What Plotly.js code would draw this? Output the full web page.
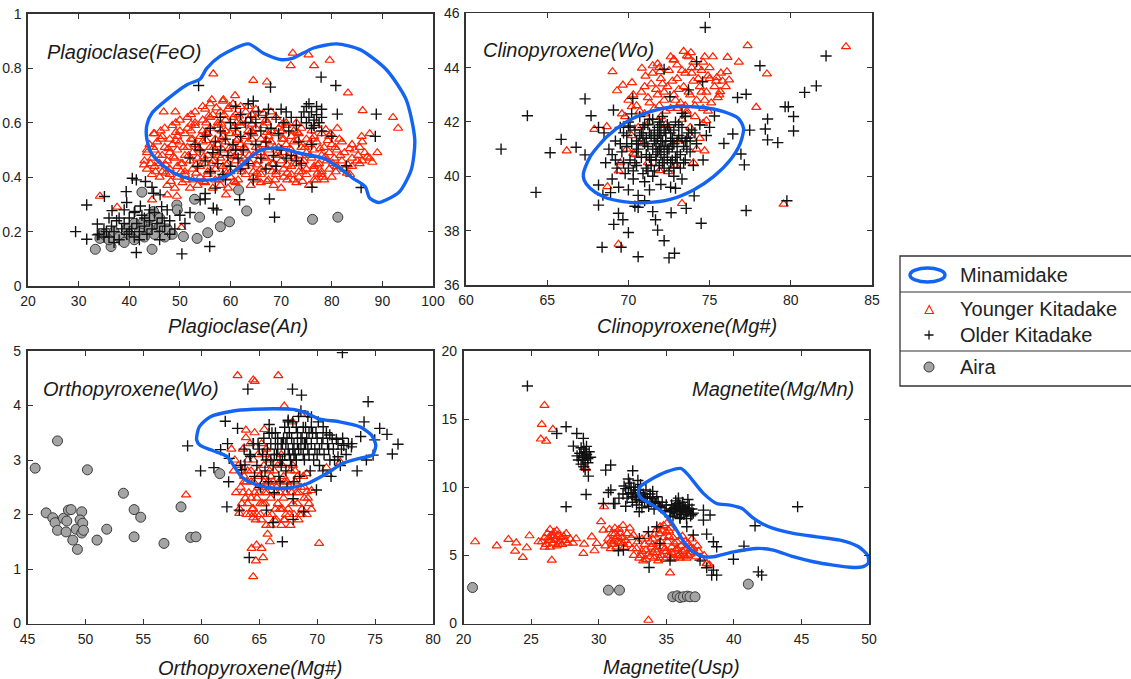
<!DOCTYPE html>
<html><head><meta charset="utf-8">
<script src="https://cdn.plot.ly/plotly-3.0.1.min.js"></script>
<style>html,body{margin:0;padding:0;background:#fff;}#chart{width:1131px;height:679px;}</style>
</head><body><div id="chart"></div>
<script>
// ---------------- DATA ----------------
// Panel 1: Plagioclase An (x) vs FeO (y)
const plagYounger = [
[34.2,0.33],[37.6,0.29],[50.3,0.215],[56.6,0.78],[64.5,0.756],[67.2,0.75],[72.3,0.856],[71.9,0.81],[75.4,0.85],[76.5,0.81],[79.6,0.83],[83.2,0.71],[86.1,0.645],[92.1,0.62],[93.1,0.58],[87.5,0.56],[85.9,0.55],[89.0,0.49],[85.0,0.46],[83.6,0.41],[81.1,0.58],[79.8,0.56],[78.2,0.40],[76.4,0.43],[72.4,0.39],[68.8,0.39],[59.1,0.335],[47.5,0.335],[49.4,0.33],[44.5,0.317],[43.5,0.5],[42.9,0.445],[44.8,0.56],[46.8,0.64],[49.1,0.64],[56.3,0.685],[58.6,0.685],[60.9,0.70],
[47.5,0.37],[49,0.36],[50.5,0.38],[52,0.36],[53.5,0.37],[55,0.38],[56.5,0.36],[58,0.37],[59.5,0.36],[61,0.38],[64,0.37],[66,0.38],[68.5,0.37],[70,0.36],[73,0.38],[75.5,0.37],[77,0.39],
[44.5,0.41],[46,0.40],[48,0.41],[49.5,0.40],[51,0.41],[52.5,0.39],[54,0.40],[55.5,0.41],[57,0.39],[58.5,0.41],[60,0.40],[61.5,0.39],[63,0.41],[64.5,0.40],[66,0.41],[67.5,0.39],[69,0.41],[70.5,0.40],[72,0.41],[73.5,0.40],[75,0.41],[76.5,0.39],[78,0.41],[80,0.40],
[43.5,0.43],[45,0.44],[46.5,0.42],[48,0.43],[49.5,0.44],[51,0.42],[52.5,0.43],[54,0.44],[55.5,0.42],[57,0.43],[58.5,0.44],[60,0.42],[61.5,0.43],[63,0.44],[64.5,0.42],[66,0.43],[67.5,0.44],[69,0.42],[70.5,0.43],[72,0.44],[73.5,0.42],[75,0.43],[76.5,0.44],[78,0.42],[79.5,0.43],[81,0.44],[82.5,0.43],[84,0.44],
[43,0.46],[44.5,0.47],[46,0.45],[47.5,0.46],[49,0.47],[50.5,0.45],[52,0.46],[53.5,0.47],[55,0.45],[56.5,0.46],[58,0.47],[59.5,0.45],[61,0.46],[62.5,0.47],[64,0.45],[65.5,0.46],[67,0.47],[68.5,0.45],[70,0.46],[71.5,0.47],[73,0.45],[74.5,0.46],[76,0.47],[77.5,0.45],[79,0.46],[80.5,0.47],[82,0.46],[84,0.47],[86,0.46],[87.5,0.47],
[43.5,0.49],[45,0.50],[46.5,0.48],[48,0.49],[49.5,0.50],[51,0.48],[52.5,0.49],[54,0.50],[55.5,0.48],[57,0.49],[58.5,0.50],[60,0.48],[61.5,0.49],[63,0.50],[64.5,0.48],[66,0.49],[67.5,0.50],[69,0.48],[70.5,0.49],[72,0.50],[73.5,0.48],[75,0.49],[76.5,0.50],[78,0.48],[79.5,0.49],[81,0.50],[82.5,0.49],[84.5,0.50],[86.5,0.49],
[44,0.52],[45.5,0.53],[47,0.51],[48.5,0.52],[50,0.53],[51.5,0.51],[53,0.52],[54.5,0.53],[56,0.51],[57.5,0.52],[59,0.53],[60.5,0.51],[62,0.52],[63.5,0.53],[65,0.51],[66.5,0.52],[68,0.53],[69.5,0.51],[71,0.52],[72.5,0.53],[74,0.51],[75.5,0.52],[77,0.53],[78.5,0.51],[80,0.52],[82,0.53],[84,0.52],[86,0.53],
[45,0.56],[46.5,0.55],[48,0.54],[49.5,0.55],[51,0.56],[52.5,0.54],[54,0.55],[55.5,0.56],[57,0.54],[58.5,0.55],[60,0.56],[61.5,0.54],[63,0.55],[64.5,0.56],[66,0.54],[67.5,0.55],[69,0.56],[70.5,0.54],[72,0.55],[73.5,0.56],[75,0.54],[76.5,0.55],[78,0.56],[79.5,0.55],
[47,0.58],[48.5,0.59],[50,0.57],[51.5,0.58],[53,0.59],[54.5,0.57],[56,0.58],[57.5,0.59],[59,0.57],[60.5,0.58],[62,0.59],[63.5,0.57],[65,0.58],[66.5,0.59],[68,0.57],[69.5,0.58],[71,0.59],[72.5,0.57],[74,0.58],[77,0.59],
[50,0.61],[51.5,0.62],[53,0.60],[54.5,0.61],[56,0.62],[57.5,0.60],[59,0.61],[60.5,0.62],[62,0.60],[63.5,0.61],[65,0.62],[67,0.61],[69,0.62],[71,0.60],
[53,0.64],[55,0.65],[56.5,0.63],[58,0.64],[59.5,0.65],[61,0.63],[63,0.64],[65,0.65],[68,0.64],
[56,0.67],[58.5,0.68],[60.5,0.67],[62,0.66],
[48.2,0.385],[51.2,0.39],[54.7,0.385],[57.8,0.39],[60.7,0.385],[65.2,0.39],[67.2,0.385],[71.2,0.39],[74.2,0.385],[78.5,0.39],
[45.2,0.42],[47.2,0.415],[50.2,0.42],[53.2,0.415],[56.2,0.42],[59.2,0.415],[62.2,0.42],[65.2,0.415],[68.2,0.42],[71.2,0.415],[74.2,0.42],[77.2,0.415],[80.8,0.42],[83,0.415],
[44.2,0.45],[47.2,0.445],[50.2,0.45],[53.2,0.445],[56.2,0.45],[59.2,0.445],[62.2,0.45],[65.2,0.445],[68.2,0.45],[71.2,0.445],[74.2,0.45],[77.2,0.445],[80.2,0.45],[83.2,0.445],[85.5,0.45],[88,0.455],
[45.7,0.48],[48.7,0.475],[51.7,0.48],[54.7,0.475],[57.7,0.48],[60.7,0.475],[63.7,0.48],[66.7,0.475],[69.7,0.48],[72.7,0.475],[75.7,0.48],[78.7,0.475],[81.7,0.48],[85.2,0.48],[87,0.475],
[44.7,0.51],[47.7,0.505],[50.7,0.51],[53.7,0.505],[56.7,0.51],[59.7,0.505],[62.7,0.51],[65.7,0.505],[68.7,0.51],[71.7,0.505],[74.7,0.51],[77.7,0.505],[80.7,0.51],[83.5,0.505],[85.5,0.51],
[46.2,0.54],[49.2,0.535],[52.2,0.54],[55.2,0.535],[58.2,0.54],[61.2,0.535],[64.2,0.54],[67.2,0.535],[70.2,0.54],[73.2,0.535],[76.2,0.54],[79.2,0.535],[81.5,0.54],
[46.2,0.57],[49.2,0.565],[52.2,0.57],[55.2,0.565],[58.2,0.57],[61.2,0.565],[64.2,0.57],[67.2,0.565],[70.2,0.57],[73.2,0.565],[76,0.57],[78.8,0.575],
[49.2,0.60],[52.2,0.595],[55.2,0.60],[58.2,0.595],[61.2,0.60],[64.2,0.595],[67.2,0.60],[70.2,0.595],[73,0.60],
[52.2,0.63],[55.7,0.625],[58.7,0.63],[61.7,0.625],[64.2,0.63],[66.5,0.635],
[54.5,0.66],[57.2,0.655],[59.8,0.66],[63.5,0.66]
];
const plagOlder = [
[29.4,0.2],[31.6,0.172],[31.6,0.298],[33.7,0.228],[33.7,0.188],[35.1,0.329],[35.5,0.2],[36.6,0.277],[39.4,0.347],[39.5,0.307],[40.6,0.396],[41.4,0.39],[41.4,0.123],[43.2,0.384],[41.1,0.274],[42.2,0.294],[44.8,0.341],[46.1,0.335],[46.4,0.292],[44.5,0.363],[50.4,0.118],[55.9,0.145],[54.0,0.317],[55.0,0.32],[56.6,0.286],[57.3,0.28],[61.8,0.317],[67.7,0.32],[68.7,0.253],[76.1,0.363],[85.8,0.362],[82.9,0.442],[88.6,0.55],[88.8,0.632],[81.1,0.632],[80.8,0.737],[77.9,0.768],[67.9,0.731],[53.7,0.737],
[34,0.19],[35,0.21],[36,0.18],[36.5,0.22],[37,0.20],[37.5,0.24],[38,0.17],[38.5,0.21],[39,0.23],[39.5,0.19],[40,0.25],[40.5,0.21],[41,0.18],[41.5,0.23],[42,0.20],[42.5,0.26],[43,0.22],[43.5,0.19],[44,0.24],[44.5,0.21],[45,0.27],[45.5,0.23],[46,0.20],[46.5,0.25],[47,0.22],[47.5,0.28],[48,0.24],[49,0.21],[38,0.25],[39,0.28],[40,0.20],[41,0.27],[42,0.17],[43,0.25],[36,0.25],[37,0.16],[35,0.18],[44,0.28],[46,0.17],[48,0.19],[50,0.26],[51,0.23],[52,0.27],
[52,0.47],[53,0.52],[53.5,0.44],[54,0.50],[55,0.46],[55,0.55],[56,0.42],[56,0.58],[56.5,0.49],[57,0.53],[57.5,0.45],[58,0.50],[58,0.57],[58.5,0.41],[59,0.54],[59.5,0.48],[60,0.44],[60,0.60],[60.5,0.52],[61,0.58],[61,0.66],[61.5,0.47],[62,0.55],[62,0.63],[62.5,0.50],[63,0.60],[63.5,0.45],[63.5,0.67],[64,0.56],[64,0.62],[64.5,0.68],[65,0.52],[65,0.60],[65.5,0.64],[66,0.47],[66,0.57],[67,0.62],[67,0.53],[67.5,0.65],[68,0.58],[68.5,0.48],[69,0.62],[69.5,0.56],[70,0.65],[70,0.50],[70.5,0.60],[71,0.64],[71.5,0.57],[72,0.48],[72,0.62],[73,0.59],[73.5,0.53],[74,0.62],[74.5,0.64],[75,0.60],[75,0.66],[75.5,0.62],[76,0.58],[76,0.64],[76.5,0.61],[77,0.66],[77,0.63],[77.5,0.60],[78,0.65],[78,0.62],[75.5,0.67],[76.5,0.59],[74,0.45],[76,0.52],[78,0.57],[80,0.55],[58,0.62],[59,0.39],[57,0.36],[55,0.34],[64.5,0.39],[67,0.43],[69,0.44],[71,0.47],[73,0.46],[62,0.43],[61,0.50]
];
const plagAira = [
[33.3,0.135],[34.2,0.175],[36.4,0.145],[44.5,0.135],[42.5,0.345],[44.8,0.274],[49.4,0.298],[52.9,0.319],[53.9,0.253],[53.4,0.175],[50.7,0.182],[55.5,0.196],[58.0,0.218],[59.8,0.236],[61.6,0.353],[63.2,0.276],[76.2,0.245],[81.2,0.253],
[35,0.19],[36,0.17],[37,0.20],[38,0.18],[39,0.16],[39.5,0.21],[40,0.19],[41,0.17],[42,0.20],[42.5,0.23],[43,0.18],[44,0.21],[45,0.19],[46,0.22],[47,0.18],[47.5,0.21],[48.5,0.19],[49.5,0.28],[46,0.25],[44,0.25],[41,0.23]
];
const plagMinamidake = [
[43.5,0.593],[44.5,0.636],[47.4,0.685],[51.4,0.74],[54.0,0.761],[55.3,0.80],[57.9,0.844],[63.5,0.89],[66.5,0.856],[70.1,0.832],[72.4,0.838],[76.4,0.875],[81.0,0.89],[85.6,0.869],[90.8,0.795],[94.7,0.685],[96.4,0.537],[95.7,0.427],[93.4,0.347],[90.8,0.317],[89.2,0.307],[87.5,0.323],[86.6,0.366],[84.2,0.396],[81.6,0.433],[78.3,0.47],[73.7,0.488],[69.8,0.507],[66.5,0.503],[64.5,0.482],[61.9,0.439],[59.3,0.405],[56.0,0.39],[52.1,0.393],[48.8,0.415],[46.1,0.452],[44.2,0.494],[43.4,0.55],[43.5,0.593]
];

// Panel 2: Clinopyroxene Mg# (x) vs Wo (y)
const cpxYounger = [
[77.34,44.81],[83.4,44.77],[78.53,43.77],[77.87,42.54],[79.56,38.98],[69.39,37.5],[68.71,39.62],[66.2,40.94],[67.9,41.73],[68.67,41.83],[69.02,43.85],[69.66,43.36],[69.3,43.15],[70.22,43.45],[70.83,43.98],[71.05,43.69],[71.5,44.07],[71.8,44.14],[71.95,43.85],[72.78,44.28],[73.6,44.43],[73.85,44.55],[75.2,44.4],[76.1,44.38],[76.8,44.2],[76.07,43.85],[75.45,43.64],[76.2,43.55],[75.65,43.12],[74.6,41.95],[74.8,42.05],[74.69,40.94],[74.0,40.5],[71.9,40.21],[72.45,40.17],[69.4,40.2],[73.3,39.0],[70.3,40.85],[69.6,42.3],[70.2,42.56],[70.7,42.4],[73.6,42.3],[73.8,41.5],[74.4,41.4],
[70.5,42.6],[70.8,43.1],[71,42.3],[71.2,42.9],[71.4,43.4],[71.6,42.5],[71.8,43.0],[72,43.6],[72,42.2],[72.2,42.8],[72.4,43.3],[72.5,43.9],[72.6,42.5],[72.8,43.0],[73,43.6],[73,44.1],[73.2,42.7],[73.4,43.3],[73.5,43.8],[73.6,42.4],[73.8,43.0],[74,43.5],[74,44.2],[74.2,42.8],[74.4,43.3],[74.5,43.9],[74.6,42.5],[74.8,43.1],[75,43.6],[75,44.0],[75.3,43.3],[75.5,42.9],[71.5,43.8],[72.8,44.3],[73.7,44.4],[74.3,44.0],[75.7,43.8],[70.3,43.0],[70.0,42.8],[71.3,42.0],[72.3,41.9],[73.3,42.1],[74.1,42.2],[74.9,42.4],[69.8,42.2],[70.6,41.8],[71.9,44.0],[72.6,44.4],[73.4,44.6],[74.7,44.4],[75.6,43.0],[76.0,43.3],[70.2,41.5],[69.9,41.0],[70.4,40.8],[71.2,40.5],[72.9,40.4],[73.1,41.3],[73.8,41.8],[74.2,41.0],[69.5,40.5],[70.9,41.2],
[71.0,43.3],[71.3,42.7],[71.7,43.2],[71.9,42.6],[72.1,43.4],[72.3,42.4],[72.7,43.5],[72.9,42.8],[73.1,43.2],[73.3,43.9],[73.5,42.6],[73.7,43.1],[73.9,43.8],[74.1,42.6],[74.3,43.6],[74.5,43.1],[74.7,42.8],[74.9,43.7],[75.1,42.7],[75.4,43.5],[72.2,43.1],[73.0,42.5],[73.9,44.0],[74.6,44.2],[75.8,43.5]
];
const cpxOlder = [
[62.16,41.0],[63.78,42.23],[64.31,39.41],[65.18,40.87],[65.86,41.36],[66.78,41.07],[67.33,42.85],[67.7,42.23],[67.33,40.79],[68.16,41.8],[68.16,39.68],[68.16,38.94],[68.43,39.31],[69.08,42.44],[69.1,38.23],[69.39,38.64],[69.55,37.39],[69.66,38.4],[70.0,37.93],[68.38,37.39],[70.6,37.04],[70.6,38.86],[71.5,38.7],[71.67,38.4],[71.8,38.02],[72.2,37.63],[72.5,37.0],[72.84,37.17],[72.63,38.66],[72.9,39.56],[73.56,38.82],[74.05,39.28],[74.48,38.27],[74.2,44.22],[74.57,43.48],[74.73,45.48],[75.3,42.22],[75.88,41.21],[76.43,41.56],[76.72,42.9],[77.25,43.02],[76.93,40.82],[77.14,40.42],[77.25,38.74],[77.47,41.7],[78.1,44.07],[78.43,41.74],[78.57,42.11],[78.57,41.34],[79.2,41.24],[79.65,42.56],[79.85,42.56],[80.17,42.2],[80.17,41.67],[79.76,39.1],[80.85,43.09],[81.57,43.33],[82.17,44.43],[72.2,43.94],[72.56,42.93],[73.3,42.32],[73.7,43.18],[70.27,42.87],[70.0,41.85],
[69.0,40.8],[69.2,41.3],[69.3,40.3],[69.5,41.8],[69.6,40.9],[69.8,40.1],[69.9,41.5],[70.0,42.0],[70.1,40.6],[70.2,41.2],[70.3,39.9],[70.4,41.7],[70.5,40.4],[70.6,41.0],[70.7,42.2],[70.8,40.7],[70.9,41.4],[71.0,39.8],[71.0,41.9],[71.1,40.3],[71.2,41.1],[71.3,41.6],[71.4,40.6],[71.5,42.1],[71.5,40.0],[71.6,41.3],[71.7,40.8],[71.8,41.8],[71.9,40.4],[72.0,41.1],[72.0,41.5],[72.1,42.2],[72.2,40.7],[72.3,41.3],[72.4,41.9],[72.5,40.2],[72.5,41.0],[72.6,41.6],[72.7,40.6],[72.8,41.2],[72.9,42.0],[73.0,40.9],[73.1,41.5],[73.2,40.3],[73.3,41.8],[73.4,41.1],[73.5,40.6],[73.6,41.4],[73.8,40.9],[73.9,41.7],[74.0,40.4],[74.2,41.2],[74.4,41.9],[71.2,41.9],[71.6,40.2],[72.2,41.7],[72.8,40.0],[70.5,41.3],[71.9,41.0],[72.4,40.9],[71.4,41.5],[70.8,41.6],[72.7,41.4],[71.7,41.2],[72.1,40.5],[73.5,42.2],[70.2,42.3],[69.4,39.6],[70.0,39.5],[70.6,39.3],[71.3,39.5],[72.0,39.7],[72.6,39.6],[73.3,39.9],[68.6,40.5],[68.8,41.0],[68.5,41.6],[69.0,39.9],[74.6,40.6],[74.8,41.5],[75.0,41.8],[68.9,39.4],[70.4,38.9],[71.0,39.1],
[69.7,40.5],[69.9,41.1],[70.1,41.8],[70.3,40.2],[70.5,40.9],[70.7,41.5],[70.9,40.1],[71.1,40.8],[71.1,41.4],[71.3,42.1],[71.4,40.4],[71.5,41.0],[71.6,41.7],[71.7,40.6],[71.8,41.4],[71.9,42.0],[72.0,40.8],[72.1,41.3],[72.2,40.3],[72.3,41.6],[72.4,41.0],[72.5,41.8],[72.6,40.5],[72.7,41.1],[72.8,41.7],[72.9,40.7],[73.0,41.3],[73.1,41.9],[73.2,40.8],[73.3,41.4],[73.4,40.5],[73.6,41.0],[73.7,41.6],[71.0,41.2],[71.8,40.9],[72.2,41.1],[71.3,40.7],[72.6,41.3],[71.6,41.5],[72.0,41.9],[70.6,41.2],[71.9,41.6],[72.4,40.6],[73.0,40.5],[73.5,41.3],[70.4,40.5],[70.9,41.8],[71.2,40.2],[72.8,40.3],[73.8,41.3],[74.1,41.6],[69.5,41.2],[69.2,40.6],[70.0,40.3],[69.7,41.6]
];
const cpxMinamidake = [
[67.27,39.87],[67.23,40.11],[67.64,40.72],[68.67,41.46],[69.9,42.01],[71.34,42.38],[72.78,42.56],[74.42,42.54],[75.86,42.38],[76.78,42.13],[77.09,41.77],[76.89,41.21],[76.27,40.6],[75.24,39.99],[74.01,39.5],[72.57,39.15],[71.13,39.03],[69.7,39.07],[68.46,39.25],[67.64,39.56],[67.27,39.87]
];

// Panel 3: Orthopyroxene Mg# (x) vs Wo (y)
const opxYounger = [
[63.13,4.55],[64.48,4.47],[64.62,4.44],[66.64,4.55],[67.16,3.99],[63.85,3.55],[63.85,3.41],[65.43,3.56],[62.6,3.2],[58.68,2.36],[63.28,2.02],[64.48,1.94],[64.48,2.11],[65.72,1.64],[65.92,1.5],[64.77,1.44],[65.2,1.38],[64.34,1.38],[65.34,1.21],[64.71,1.15],[64.48,0.86],[70.17,1.47],[67.13,1.9],[69.51,2.44],[69.13,2.42],[70.94,2.74],[72.0,2.96],[70.8,2.86],[69.1,2.75],[68.65,3.83],[67.87,3.7],
[63.2,2.9],[63.4,2.5],[63.5,2.2],[63.7,2.7],[63.9,2.0],[64.0,3.0],[64.1,2.4],[64.3,2.8],[64.4,2.1],[64.5,2.6],[64.7,1.9],[64.8,2.3],[64.9,3.1],[65.0,2.7],[65.1,2.0],[65.3,2.5],[65.4,2.9],[65.5,2.2],[65.6,1.8],[65.8,2.6],[65.9,3.0],[66.0,2.3],[66.1,2.0],[66.3,2.8],[66.4,2.4],[66.5,1.9],[66.7,2.6],[66.8,2.1],[67.0,2.9],[67.1,2.3],[67.2,1.9],[67.4,2.6],[67.5,2.1],[67.7,2.8],[67.8,2.4],[68.0,2.0],[68.1,2.6],[68.3,2.2],[68.4,1.9],[68.6,2.5],[68.7,2.1],[68.9,2.3],[69.1,2.0],[69.3,2.2],[63.6,3.2],[64.2,3.3],[65.2,3.3],[64.6,3.5],[62.8,2.8],[63.0,2.4],[63.9,2.6],[64.8,2.0],[65.7,2.4],[66.6,2.2],[67.3,2.4],[68.2,2.4],[66.2,2.6],[65.0,2.4],[64.3,2.3],[67.6,2.0],[66.9,1.8],[68.8,2.7],[67.9,2.9],[66.9,3.1],[65.5,3.1],[64.0,2.2],[63.3,2.1],[64.5,2.0],[66.0,1.8],[62.9,3.0],[63.7,2.6],[65.3,2.2],[67.0,2.1],
[63.6,2.4],[64.0,2.8],[64.2,2.0],[64.6,2.4],[64.9,2.8],[65.1,2.2],[65.4,2.6],[65.7,2.0],[65.9,2.8],[66.1,2.5],[66.4,2.1],[66.6,2.9],[66.8,2.4],[67.1,2.7],[67.3,2.0],[67.6,2.5],[67.9,2.2],[68.1,2.8],[68.4,2.4],[68.7,2.0],[68.9,2.5],[69.2,2.3],[65.2,1.9],[66.3,1.9],[67.7,1.8],[68.5,2.0],[64.5,3.0],[65.6,3.2],[63.8,2.3],[64.9,2.5],[66.0,2.7],[67.2,2.6],[68.3,2.7],[66.5,2.5],[65.5,2.4],[64.3,2.6],[63.5,2.8],[69.5,2.1]
];
const opxOlder = [
[72.18,4.97],[64.02,4.3],[67.87,4.3],[68.65,4.19],[74.4,4.07],[62.07,3.71],[63.13,3.58],[58.82,3.26],[59.94,2.8],[61.09,2.86],[62.27,3.3],[61.67,3.19],[62.41,3.03],[62.36,2.6],[62.21,2.14],[63.28,2.08],[65.86,3.65],[65.63,2.08],[66.2,1.85],[67.0,1.5],[64.14,1.21],[67.93,1.91],[68.85,2.05],[67.93,2.29],[69.94,2.45],[73.45,2.8],[74.25,3.0],[74.05,3.7],[75.4,3.58],[76.03,3.47],[76.49,3.11],[76.98,3.29],[74.97,3.37],[74.83,3.09],[73.76,3.43],[72.96,3.24],[72.3,3.27],[71.8,3.06],[71.66,3.38],[71.09,3.46],[70.52,3.61],[69.51,3.79],[67.5,3.73],[65.86,3.49],[64.48,3.3],[64.25,3.07],[63.77,2.91],[63.48,2.82],
[64.2,3.1],[64.5,3.3],[64.8,2.9],[65.0,3.2],[65.2,2.7],[65.4,3.4],[65.6,3.0],[65.8,2.6],[66.0,3.3],[66.2,2.9],[66.4,3.5],[66.5,3.1],[66.7,2.7],[66.9,3.3],[67.0,3.0],[67.2,3.6],[67.3,2.8],[67.5,3.2],[67.6,3.5],[67.8,2.9],[67.9,3.7],[68.0,3.3],[68.2,3.0],[68.3,3.5],[68.5,2.7],[68.6,3.2],[68.8,3.6],[68.9,3.0],[69.1,3.4],[69.3,3.1],[69.4,2.8],[69.6,3.5],[69.8,3.2],[70.0,3.4],[70.2,2.9],[70.4,3.3],[70.6,3.1],[70.8,3.5],[71.0,3.2],[71.3,3.4],[71.5,3.0],[71.8,3.3],[72.1,3.2],[72.5,3.1],[73.0,3.3],[66.0,3.0],[67.1,3.4],[68.1,3.1],[68.7,3.4],[69.0,3.3],[67.7,3.0],[66.6,3.2],[68.4,3.8],[67.5,3.7],[69.5,3.6],[65.5,2.8],[66.8,2.6],[67.4,2.5],[68.0,2.6],[64.6,2.7],[65.1,2.5],[66.3,2.4],[63.7,3.2],[63.4,2.9],[70.5,2.8],[72.0,2.9],[71.2,2.7],[70.1,3.7],[69.2,3.8],[68.6,3.9],
[65.7,3.2],[66.1,3.5],[66.3,3.1],[66.6,3.4],[66.8,3.0],[67.0,3.3],[67.2,3.1],[67.4,3.4],[67.6,3.1],[67.8,3.4],[68.0,3.1],[68.2,3.6],[68.4,3.2],[68.6,3.4],[68.8,3.1],[69.0,3.6],[69.2,3.2],[69.5,3.3],[69.7,3.0],[69.9,3.5],[70.2,3.2],[70.5,3.4],[70.9,3.3],[71.4,3.2],[72.2,3.4],[72.7,3.3],[66.9,2.9],[67.9,3.2],[68.9,3.3],[67.3,3.3],[68.3,3.3],[69.3,3.5],[66.4,3.3],[65.3,3.1],[64.9,3.3],[70.0,3.1],[71.1,3.0]
];
const opxAira = [
[45.66,2.85],[47.59,3.35],[50.17,2.82],[53.28,2.39],[58.25,2.14],[61.6,2.75],[46.61,2.03],[47.18,1.94],[47.38,1.85],[47.59,1.71],[48.1,1.93],[48.39,1.88],[48.33,1.68],[48.53,2.08],[48.76,2.09],[48.91,1.53],[49.2,1.73],[49.31,1.36],[49.68,2.05],[49.54,1.9],[49.77,1.84],[49.68,1.66],[49.83,1.71],[51.0,1.53],[51.84,1.73],[54.2,2.09],[54.77,1.95],[54.2,1.59],[56.78,1.47],[59.08,1.58],[59.54,1.59]
];
const opxMinamidake = [
[59.6,3.37],[59.83,3.61],[60.75,3.79],[62.76,3.9],[64.48,3.93],[66.2,3.94],[67.93,3.93],[69.08,3.86],[70.23,3.75],[71.95,3.7],[73.68,3.61],[74.68,3.46],[75.06,3.27],[74.77,3.09],[73.68,3.03],[72.24,2.94],[70.8,2.75],[69.08,2.56],[67.36,2.48],[65.63,2.5],[64.48,2.57],[63.48,2.69],[62.76,2.91],[62.18,3.07],[61.03,3.17],[59.89,3.27],[59.6,3.37]
];

// Panel 4: Magnetite Usp (x) vs Mg/Mn (y)
const mtYounger = [
[20.86,6.0],[22.46,5.7],[23.32,6.17],[23.82,5.31],[23.9,5.92],[24.39,4.85],[24.68,5.56],[24.88,6.44],[25.55,6.0],[26.53,4.65],[25.99,16.01],[25.79,14.61],[26.61,14.25],[25.72,13.54],[26.11,13.39],[29.05,11.38],[28.33,6.22],[28.92,5.83],[28.87,5.14],[29.69,5.34],[29.49,6.36],[29.86,5.88],[30.18,7.47],[30.35,6.85],[30.4,8.57],[30.92,6.07],[33.68,0.24],[35.28,3.72],[34.54,7.1],[35.04,7.34],[32.57,6.49],[37.99,4.41],
[25.8,6.0],[26.0,6.3],[26.1,5.8],[26.2,6.6],[26.3,6.1],[26.4,5.6],[26.5,6.4],[26.6,5.9],[26.7,6.7],[26.8,6.2],[26.9,5.7],[27.0,6.5],[27.1,6.0],[27.2,6.3],[27.3,5.8],[27.4,6.4],[27.5,6.1],[27.7,5.9],[27.9,6.2],[28.1,5.9],[26.4,6.9],[26.9,6.8],[26.0,5.6],[27.6,6.6],
[30.5,5.7],[30.7,6.2],[30.9,5.5],[31.0,6.6],[31.1,6.0],[31.2,7.0],[31.3,5.6],[31.4,6.4],[31.5,6.9],[31.6,5.9],[31.7,6.3],[31.8,7.2],[31.9,5.6],[32.0,6.1],[32.1,6.6],[32.2,5.8],[32.4,6.3],[32.5,5.5],[31.2,6.2],[31.6,6.6],[30.8,6.9],[32.3,7.0],
[32.6,5.0],[32.8,5.5],[33.0,4.8],[33.2,5.3],[33.4,5.8],[33.5,4.7],[33.7,5.1],[33.9,5.6],[34.0,6.2],[34.1,4.8],[34.2,5.4],[34.4,5.9],[34.5,6.6],[34.6,5.0],[34.7,5.6],[34.8,6.3],[34.9,4.7],[35.0,5.3],[35.1,6.0],[35.2,6.8],[35.3,5.0],[35.4,5.6],[35.5,6.3],[35.6,4.8],[35.7,5.4],[35.8,6.0],[36.0,5.1],[36.1,5.7],[36.3,4.9],[36.4,5.4],[36.6,5.9],[36.8,5.1],[37.0,5.5],[37.2,4.9],[37.4,5.3],[37.6,4.7],[37.8,5.0],[34.3,6.9],[34.8,7.2],[35.3,7.0],[33.2,6.2],[33.6,6.4],[36.2,6.4],[36.9,6.2],[38.0,4.4],[38.2,4.3],[32.9,6.0],[34.0,5.2],[35.9,5.0],[34.4,4.6],[33.3,4.6],
[33.1,5.0],[33.5,5.4],[33.8,4.9],[34.0,5.8],[34.3,5.2],[34.5,4.8],[34.6,6.0],[34.9,5.5],[35.1,5.0],[35.2,6.4],[35.4,5.2],[35.6,5.9],[35.8,5.5],[36.0,4.8],[36.2,5.3],[36.4,6.0],[36.6,5.0],[36.8,5.5],[37.1,5.2],[37.3,5.7],[34.1,6.5],[34.7,6.8],[35.0,6.7],[33.8,6.0],[35.4,4.7],[36.5,4.8],[31.0,5.8],[31.4,6.0],[31.8,5.9],[31.2,6.6],[26.5,6.1],[26.7,6.4],[27.0,5.8],[26.3,6.3]
];
const mtOlder = [
[24.73,17.43],[27.59,14.44],[26.9,13.95],[28.38,13.95],[28.87,13.59],[28.13,13.02],[29.24,10.82],[29.07,9.47],[27.59,8.57],[30.52,11.26],[30.89,11.63],[30.72,9.62],[30.35,8.81],[31.1,8.81],[31.88,10.09],[32.52,11.21],[37.75,8.32],[38.24,7.96],[37.75,7.59],[37.99,6.56],[38.49,6.0],[38.73,5.63],[37.0,6.49],[36.52,7.1],[36.02,7.71],[35.28,7.83],[34.3,7.1],[33.68,6.73],[33.01,6.24],[31.83,5.39],[31.46,5.34],[33.73,4.11],[35.28,4.65],[37.5,4.65],[37.99,4.09],[38.49,3.92],[38.36,3.55],[38.73,3.55],[39.97,4.72],[40.75,5.68],[41.57,7.17],[41.81,3.79],[42.06,3.55],[44.72,8.57],[34.54,5.88],
[28.5,12.0],[28.6,12.5],[28.7,11.7],[28.8,12.2],[28.9,12.8],[28.9,11.5],[29.0,12.0],[29.1,12.4],[29.2,11.8],[29.3,12.6],[28.7,12.9],[29.0,11.3],[29.4,12.2],[28.4,12.3],[29.1,13.0],
[31.8,9.5],[32.0,9.9],[32.1,9.2],[32.3,10.3],[32.4,9.6],[32.5,8.9],[32.6,10.0],[32.7,9.3],[32.8,8.7],[32.9,9.8],[33.0,9.1],[33.1,10.2],[33.2,8.5],[33.3,9.5],[33.4,8.9],[33.5,9.8],[33.6,9.2],[33.7,8.6],[33.8,9.5],[33.9,8.9],[34.0,9.2],[34.1,8.4],[34.2,8.8],[34.3,9.3],[34.5,8.6],[34.7,8.9],[34.9,8.3],[35.0,8.7],[32.2,10.6],[32.9,10.5],[31.5,9.2],[32.0,8.6],[33.0,8.2],[34.0,9.7],[31.2,8.8],[30.9,9.8],
[35.3,8.2],[35.4,8.7],[35.5,7.9],[35.6,8.5],[35.7,9.0],[35.8,8.1],[35.9,8.6],[36.0,7.8],[36.1,8.3],[36.2,8.9],[36.3,8.0],[36.4,8.5],[36.5,7.7],[36.6,8.2],[36.7,8.7],[36.8,7.9],[36.9,8.4],[37.0,8.1],[35.5,8.4],[36.2,8.4],[36.6,9.1],[35.9,9.2],
[32.2,9.5],[32.5,9.3],[32.7,9.8],[32.8,9.1],[33.0,9.6],[33.2,9.0],[33.4,9.3],[33.6,8.9],[33.8,9.2],[34.1,8.9],[34.4,8.9],[34.6,8.5],[32.4,10.0],[33.1,9.4],[32.6,9.6],[35.4,8.4],[35.6,8.2],[35.8,8.8],[36.0,8.4],[36.1,8.0],[36.3,8.6],[36.5,8.3],[36.7,8.4],[36.9,8.0],[35.7,8.5],[36.4,8.2],[36.0,8.7],
[28.8,12.0],[29.0,12.6],[28.9,12.3],[29.2,12.1]
];
const mtAira = [
[20.67,2.64],[30.72,2.45],[31.54,2.45],[35.48,1.96],[35.82,2.03],[36.02,1.91],[36.27,1.96],[36.56,2.01],[36.76,1.96],[37.13,1.96],[41.07,2.89]
];
const mtMinamidake = [
[32.94,9.55],[33.06,10.04],[33.8,10.53],[35.04,11.14],[36.07,11.38],[36.52,11.02],[37.75,9.55],[38.73,8.81],[39.72,8.69],[40.58,8.45],[41.32,7.83],[42.06,7.34],[42.92,6.98],[44.4,6.61],[46.13,6.36],[47.85,6.12],[49.2,5.65],[49.9,5.0],[49.95,4.45],[49.5,4.15],[48.84,4.11],[47.36,4.28],[45.88,4.53],[44.4,4.9],[42.92,5.39],[41.69,5.51],[39.97,5.26],[38.49,4.9],[37.75,4.9],[37.0,5.26],[36.39,5.88],[35.77,6.85],[35.28,7.59],[34.54,8.32],[33.8,8.81],[33.18,9.18],[32.94,9.55]
];

const legendLabels = ["Minamidake", "Younger Kitadake", "Older Kitadake", "Aira"];
const panelLabels = ["Plagioclase(FeO)", "Clinopyroxene(Wo)", "Orthopyroxene(Wo)", "Magnetite(Mg/Mn)"];
const axisTitles = ["Plagioclase(An)", "Clinopyroxene(Mg#)", "Orthopyroxene(Mg#)", "Magnetite(Usp)"];

// ---------------- STYLE ----------------
const RED = '#ff2200', BLUE = '#1464f4', FONT = 'Liberation Sans, Arial, sans-serif';
const W = 1131, H = 679;
const PX = x => x / W, PY = y => 1 - y / H;

function markers(pairs, kind, n) {
  const xa = n === 1 ? 'x' : 'x' + n, ya = n === 1 ? 'y' : 'y' + n;
  let marker;
  if (kind === 'yk') marker = {symbol: 'triangle-up-open', size: 8, color: RED, line: {width: 1.2}};
  else if (kind === 'ok') marker = {symbol: 'cross-thin', size: 8, color: '#000', line: {color: '#111', width: 1.4}};
  else marker = {symbol: 'circle', size: 10, color: '#a4a4a4', line: {color: '#3a3a3a', width: 1}};
  return {type: 'scatter', mode: 'markers', x: pairs.map(p => p[0]), y: pairs.map(p => p[1]),
          xaxis: xa, yaxis: ya, marker: marker, showlegend: false, hoverinfo: 'skip'};
}
function contour(pairs, n) {
  const xa = n === 1 ? 'x' : 'x' + n, ya = n === 1 ? 'y' : 'y' + n;
  return {type: 'scatter', mode: 'lines', x: pairs.map(p => p[0]), y: pairs.map(p => p[1]),
          xaxis: xa, yaxis: ya, line: {color: BLUE, width: 3.4, shape: 'spline', smoothing: 0.7},
          showlegend: false, hoverinfo: 'skip'};
}

const traces = [
  markers(plagAira, 'aira', 1), markers(plagYounger, 'yk', 1), markers(plagOlder, 'ok', 1), contour(plagMinamidake, 1),
  markers(cpxYounger, 'yk', 2), markers(cpxOlder, 'ok', 2), contour(cpxMinamidake, 2),
  markers(opxAira, 'aira', 3), markers(opxYounger, 'yk', 3), markers(opxOlder, 'ok', 3), contour(opxMinamidake, 3),
  markers(mtAira, 'aira', 4), markers(mtYounger, 'yk', 4), markers(mtOlder, 'ok', 4), contour(mtMinamidake, 4)
];

function ax(domain, range, dtick, anchor) {
  return {domain: domain, range: range, dtick: dtick, tick0: range[0], anchor: anchor,
          showline: true, linecolor: '#333', linewidth: 1.6, mirror: 'ticks',
          ticks: 'inside', ticklen: 5, tickwidth: 1, tickcolor: '#333',
          showgrid: false, zeroline: false, ticklabelstandoff: 2,
          tickfont: {family: FONT, size: 14, color: '#222'}};
}

const layout = {
  width: W, height: H, margin: {l: 0, r: 0, t: 0, b: 0},
  paper_bgcolor: '#fff', plot_bgcolor: '#fff', showlegend: false,
  xaxis:  ax([PX(28), PX(433)], [20, 100], 10, 'y'),
  yaxis:  ax([PY(286), PY(14)], [0, 1], 0.2, 'x'),
  xaxis2: ax([PX(466), PX(872)], [60, 85], 5, 'y2'),
  yaxis2: ax([PY(285), PY(13.3)], [36, 46], 2, 'x2'),
  xaxis3: ax([PX(27.5), PX(433)], [45, 80], 5, 'y3'),
  yaxis3: ax([PY(623.5), PY(351)], [0, 5], 1, 'x3'),
  xaxis4: ax([PX(463.5), PX(869)], [20, 50], 5, 'y4'),
  yaxis4: ax([PY(623.5), PY(351)], [0, 20], 5, 'x4'),
  annotations: [], shapes: []
};

const itFont = {family: FONT, size: 20, color: '#1a1a1a'};
// panel labels
[[45, 52, 'left'], [481, 50, 'left'], [41, 389, 'left'], [856, 389, 'right']].forEach((p, i) => {
  layout.annotations.push({xref: 'paper', yref: 'paper', x: PX(p[0]), y: PY(p[1]), xanchor: p[2], yanchor: 'middle',
    text: '<i>' + panelLabels[i] + '</i>', showarrow: false, font: itFont});
});
// axis titles
[[238, 326], [687, 326], [250, 668], [671, 667]].forEach((p, i) => {
  layout.annotations.push({xref: 'paper', yref: 'paper', x: PX(p[0]), y: PY(p[1]), xanchor: 'center', yanchor: 'middle',
    text: '<i>' + axisTitles[i] + '</i>', showarrow: false, font: itFont});
});
// legend
layout.shapes.push({type: 'rect', xref: 'paper', yref: 'paper', x0: PX(900), x1: PX(1140), y0: PY(386), y1: PY(256), line: {color: '#333', width: 1.3}, fillcolor: 'rgba(0,0,0,0)'});
layout.shapes.push({type: 'line', xref: 'paper', yref: 'paper', x0: PX(900), x1: PX(1131), y0: PY(292), y1: PY(292), line: {color: '#333', width: 1.2}});
layout.shapes.push({type: 'line', xref: 'paper', yref: 'paper', x0: PX(900), x1: PX(1131), y0: PY(351), y1: PY(351), line: {color: '#333', width: 1.2}});
layout.shapes.push({type: 'circle', xref: 'paper', yref: 'paper', x0: PX(910), x1: PX(945), y0: PY(282), y1: PY(268), line: {color: BLUE, width: 3.4}});
const tri = 'M ' + PX(925) + ',' + PY(313.5) + ' L ' + PX(933.5) + ',' + PY(313.5) + ' L ' + PX(929.2) + ',' + PY(305.5) + ' Z';
layout.shapes.push({type: 'path', xref: 'paper', yref: 'paper', path: tri, line: {color: RED, width: 1.1}});
const plus = 'M ' + PX(924.5) + ',' + PY(335) + ' L ' + PX(933.5) + ',' + PY(335) + ' M ' + PX(929) + ',' + PY(330.5) + ' L ' + PX(929) + ',' + PY(339.5);
layout.shapes.push({type: 'path', xref: 'paper', yref: 'paper', path: plus, line: {color: '#111', width: 1.3}});
layout.shapes.push({type: 'circle', xref: 'paper', yref: 'paper', x0: PX(924), x1: PX(934), y0: PY(372), y1: PY(362), fillcolor: '#a4a4a4', line: {color: '#3a3a3a', width: 1}});
[275, 309, 335, 367].forEach((y, i) => {
  layout.annotations.push({xref: 'paper', yref: 'paper', x: PX(958), y: PY(y), xanchor: 'left', yanchor: 'middle',
    text: legendLabels[i], showarrow: false, font: {family: FONT, size: 20, color: '#222'}});
});

Plotly.newPlot('chart', traces, layout, {staticPlot: true, displayModeBar: false});
</script>
</body></html>
